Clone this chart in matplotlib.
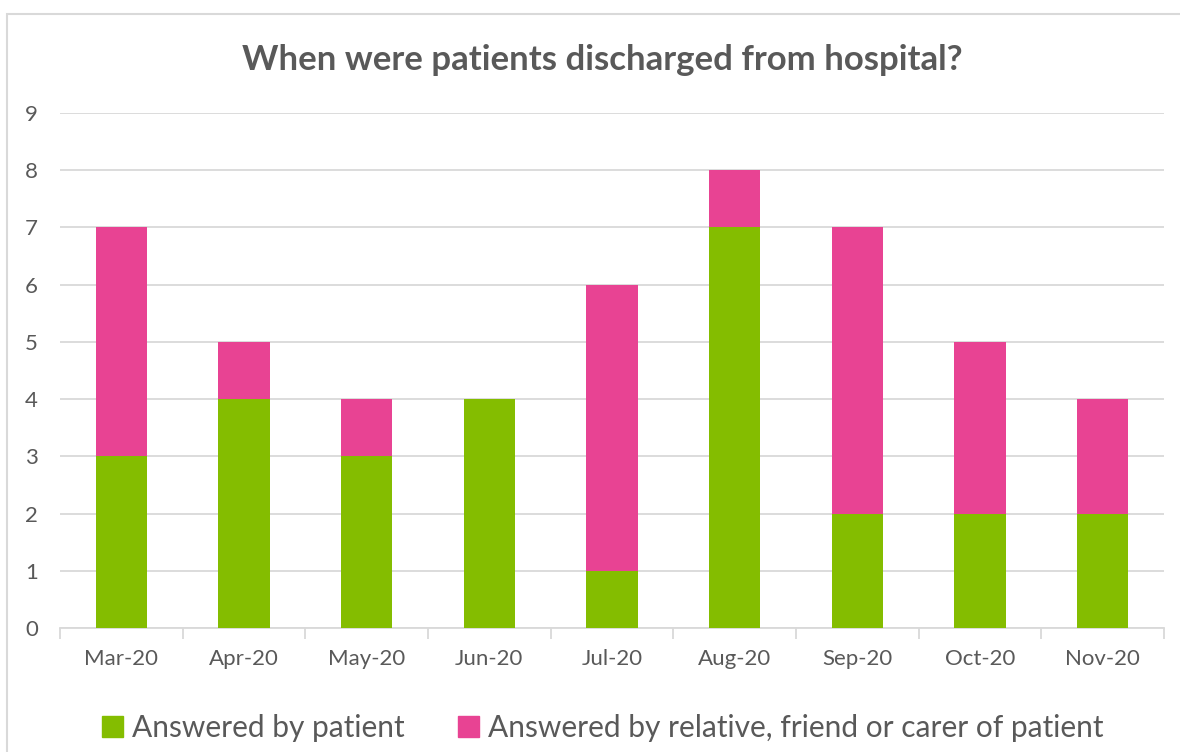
import matplotlib
matplotlib.use("Agg")
import matplotlib.pyplot as plt
from matplotlib.patches import Rectangle, Patch

months = ["Mar-20", "Apr-20", "May-20", "Jun-20", "Jul-20", "Aug-20", "Sep-20", "Oct-20", "Nov-20"]
patient = [3, 4, 3, 4, 1, 7, 2, 2, 2]
relative = [4, 1, 1, 0, 5, 1, 5, 3, 2]
series_names = ["Answered by patient", "Answered by relative, friend or carer of patient"]
title = "When were patients discharged from hospital?"

green = "#84BD00"
pink = "#E84393"
text_col = "#595959"
grid_col = "#D9D9D9"

plt.rcParams['font.family'] = ['Lato', 'DejaVu Sans']

W, H = 1180, 752
fig = plt.figure(figsize=(W / 100, H / 100), dpi=100)

# chart border
fig.patches.append(Rectangle((7 / W, -0.05), 1.1, 1 - 14 / H + 0.05, transform=fig.transFigure,
                             fill=False, edgecolor=grid_col, linewidth=1.5))

ax = fig.add_axes([60 / W, (H - 628) / H, 1104 / W, (628 - 113) / H])
x = list(range(len(months)))
ax.bar(x, patient, width=0.42, color=green, zorder=3)
ax.bar(x, relative, width=0.42, bottom=patient, color=pink, zorder=3)

ax.set_xlim(-0.5, len(months) - 0.5)
ax.set_ylim(0, 9)
ax.set_yticks(range(0, 10))
ax.yaxis.grid(True, color=grid_col, linewidth=1.3, zorder=0)
ax.set_axisbelow(True)
for s in ["top", "right", "left"]:
    ax.spines[s].set_visible(False)
ax.spines["bottom"].set_color(grid_col)
ax.spines["bottom"].set_linewidth(1.3)

ax.set_xticks(x)
ax.set_xticklabels(months)
ax.set_xticks([i - 0.5 for i in range(len(months) + 1)], minor=True)
ax.tick_params(axis="x", which="major", length=0, pad=15, labelsize=16, labelcolor=text_col)
ax.tick_params(axis="x", which="minor", length=8, width=1.3, color=grid_col)
ax.tick_params(axis="y", length=0, pad=16, labelsize=16, labelcolor=text_col)

fig.text(0.5 * (243 + 962) / W, 1 - 60 / H, title, ha="center", va="center",
         fontsize=25, fontweight="bold", color=text_col)

handles = [Patch(color=green), Patch(color=pink)]
fig.legend(handles, series_names, loc="center", bbox_to_anchor=(603 / W, 1 - 728 / H),
           ncol=2, frameon=False, fontsize=21.5, labelcolor=text_col,
           handlelength=0.7, handleheight=0.7, handletextpad=0.3, columnspacing=1.8)

fig.savefig("out.png", dpi=100)
